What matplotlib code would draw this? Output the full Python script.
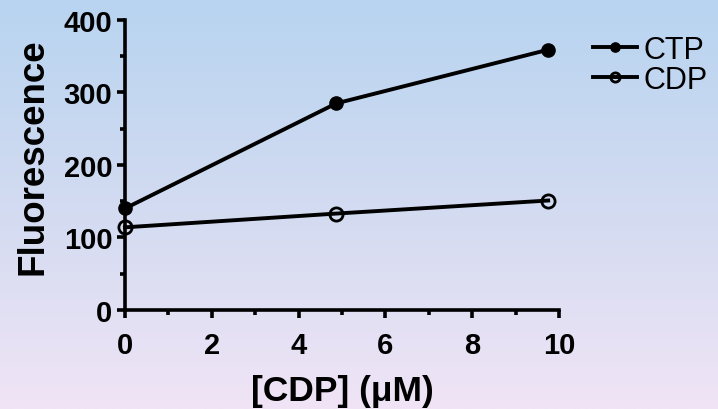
import numpy as np
import matplotlib
matplotlib.use("Agg")
import matplotlib.pyplot as plt
from matplotlib.colors import LinearSegmentedColormap

# data
cdp_conc = [0, 4.87, 9.75]
ctp_vals = [140, 285, 359]
cdp_vals = [114, 133, 151]

plt.rcParams['font.family'] = ['Liberation Sans', 'DejaVu Sans']

fig = plt.figure(figsize=(7.18, 4.10), dpi=100)

# background gradient, light blue at top to lavender at bottom
bg = fig.add_axes([0, 0, 1, 1], zorder=-10)
cmap = LinearSegmentedColormap.from_list("bg", [(184/255, 212/255, 240/255),
                                                 (210/255, 219/255, 241/255),
                                                 (240/255, 228/255, 246/255)])
bg.imshow(np.linspace(0, 1, 256).reshape(-1, 1), aspect='auto', cmap=cmap,
          extent=[0, 1, 0, 1])
bg.axis('off')

ax = fig.add_axes([0.174, 0.2415, 0.6046, 0.7073])
ax.set_facecolor('none')

ax.plot(cdp_conc, ctp_vals, '-o', color='black', lw=2.8, ms=9.5,
        mfc='black', mec='black', label='CTP', clip_on=False, zorder=3)
ax.plot(cdp_conc, cdp_vals, '-o', color='black', lw=2.8, ms=9.5,
        mfc='none', mec='black', mew=2.0, label='CDP', clip_on=False, zorder=3)

ax.set_xlim(0, 10)
ax.set_ylim(0, 400)
ax.set_xticks([0, 2, 4, 6, 8, 10])
ax.set_xticks([1, 3, 5, 7, 9], minor=True)
ax.set_yticks([0, 100, 200, 300, 400])
ax.set_yticks([50, 150, 250, 350], minor=True)

for s in ['top', 'right']:
    ax.spines[s].set_visible(False)
for s in ['left', 'bottom']:
    ax.spines[s].set_linewidth(2.6)

ax.tick_params(which='major', direction='out', length=6, width=2.6,
               labelsize=21)
ax.tick_params(which='minor', direction='out', length=3.5, width=2.6)
ax.tick_params(axis='x', which='major', pad=9)
ax.tick_params(axis='y', which='major', pad=3)
for lab in ax.get_xticklabels() + ax.get_yticklabels():
    lab.set_fontweight('bold')

ax.set_xlabel('[CDP] (\u03bcM)', fontsize=25.5, fontweight='bold', va='center')
ax.xaxis.set_label_coords(0.5, -0.279)
ax.set_ylabel('Fluorescence', fontsize=26.5, fontweight='bold', va='center')
ax.yaxis.set_label_coords(-0.212, 0.531)

leg = ax.legend(loc='upper left', bbox_to_anchor=(1.05, 0.99), frameon=False,
                fontsize=22, handlelength=1.45, handletextpad=0.2,
                labelspacing=0.0, markerscale=0.7, borderaxespad=0)

fig.savefig('out.png', dpi=100)
